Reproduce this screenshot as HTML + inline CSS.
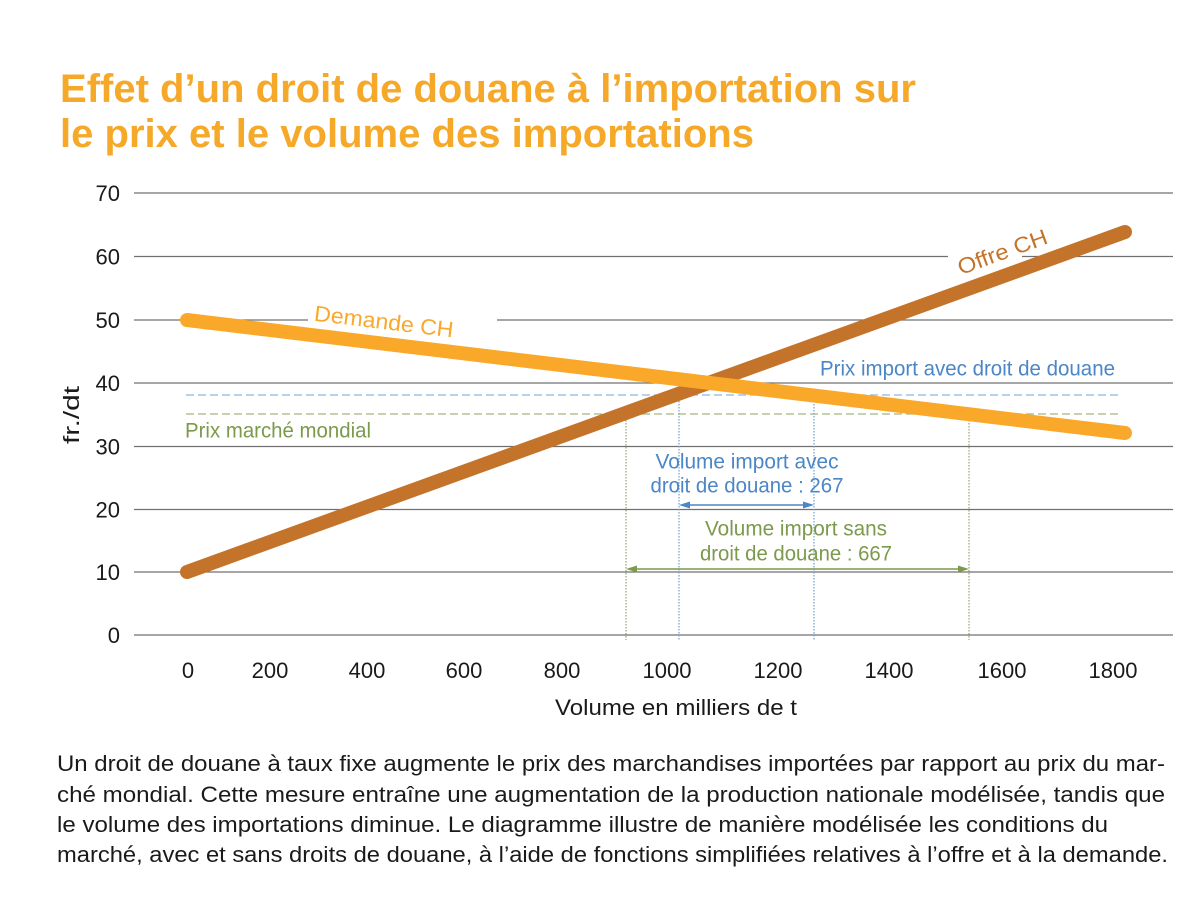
<!DOCTYPE html>
<html>
<head>
<meta charset="utf-8">
<style>
  html,body{margin:0;padding:0;background:#fff;}
  svg{display:block;}
  text{font-family:"Liberation Sans",sans-serif;}
</style>
</head>
<body>
<svg width="1199" height="897" viewBox="0 0 1199 897" xmlns="http://www.w3.org/2000/svg">
  <rect width="1199" height="897" fill="#fff"/>
  <!-- Title -->
  <text x="60" y="102" font-size="40" font-weight="bold" fill="#F6A928" textLength="856" lengthAdjust="spacingAndGlyphs">Effet d’un droit de douane à l’importation sur</text>
  <text x="60" y="147" font-size="40" font-weight="bold" fill="#F6A928" textLength="694" lengthAdjust="spacingAndGlyphs">le prix et le volume des importations</text>

  <!-- Gridlines -->
  <g stroke="#707070" stroke-width="1.3">
    <line x1="134" y1="193" x2="1173" y2="193"/>
    <line x1="134" y1="256.5" x2="948" y2="256.5"/>
    <line x1="1022" y1="256.5" x2="1173" y2="256.5"/>
    <line x1="134" y1="320" x2="308" y2="320"/>
    <line x1="497" y1="320" x2="1173" y2="320"/>
    <line x1="134" y1="383" x2="1173" y2="383"/>
    <line x1="134" y1="446.5" x2="1173" y2="446.5"/>
    <line x1="134" y1="509.5" x2="1173" y2="509.5"/>
    <line x1="134" y1="572" x2="1173" y2="572"/>
    <line x1="134" y1="635" x2="1173" y2="635"/>
  </g>

  <!-- Y labels -->
  <g font-size="22" fill="#1a1a1a" text-anchor="end">
    <text x="120" y="201">70</text>
    <text x="120" y="264.5">60</text>
    <text x="120" y="328">50</text>
    <text x="120" y="391">40</text>
    <text x="120" y="454.5">30</text>
    <text x="120" y="517.5">20</text>
    <text x="120" y="580">10</text>
    <text x="120" y="643">0</text>
  </g>
  <text transform="translate(79,415) rotate(-90)" font-size="22" fill="#1a1a1a" text-anchor="middle" textLength="58" lengthAdjust="spacingAndGlyphs">fr./dt</text>

  <!-- X labels -->
  <g font-size="22" fill="#1a1a1a" text-anchor="middle">
    <text x="188" y="678">0</text>
    <text x="270" y="678">200</text>
    <text x="367" y="678">400</text>
    <text x="464" y="678">600</text>
    <text x="562" y="678">800</text>
    <text x="667" y="678">1000</text>
    <text x="778" y="678">1200</text>
    <text x="889" y="678">1400</text>
    <text x="1002" y="678">1600</text>
    <text x="1113" y="678">1800</text>
  </g>
  <text x="555" y="715" font-size="22" fill="#1a1a1a" textLength="242" lengthAdjust="spacingAndGlyphs">Volume en milliers de t</text>

  <!-- Dashed price lines -->
  <line x1="186" y1="395" x2="1120" y2="395" stroke="#8DB6DD" stroke-width="1.2" stroke-dasharray="8,4"/>
  <line x1="186" y1="414" x2="1120" y2="414" stroke="#A3B67F" stroke-width="1.2" stroke-dasharray="8,4"/>

  <!-- Vertical dotted lines -->
  <g stroke-width="1.2" stroke-dasharray="1.5,1.5">
    <line x1="626" y1="414" x2="626" y2="640" stroke="#8FA66A"/>
    <line x1="969" y1="414" x2="969" y2="640" stroke="#8FA66A"/>
    <line x1="679" y1="395" x2="679" y2="640" stroke="#6E9FD3"/>
    <line x1="814" y1="395" x2="814" y2="640" stroke="#6E9FD3"/>
  </g>

  <!-- Supply & demand -->
  <line x1="187" y1="572" x2="1125" y2="232" stroke="#C4742A" stroke-width="14" stroke-linecap="round"/>
  <line x1="187" y1="320" x2="1125" y2="433" stroke="#F9A82A" stroke-width="14" stroke-linecap="round"/>

  <!-- Arrows -->
  <g stroke="#4B86C6" fill="#4B86C6">
    <line x1="686" y1="505" x2="807" y2="505" stroke-width="1.5"/>
    <polygon points="679,505 690,501.5 690,508.5" stroke="none"/>
    <polygon points="814,505 803,501.5 803,508.5" stroke="none"/>
  </g>
  <g stroke="#7C9A4C" fill="#7C9A4C">
    <line x1="633" y1="569" x2="962" y2="569" stroke-width="1.5"/>
    <polygon points="626,569 637,565.5 637,572.5" stroke="none"/>
    <polygon points="969,569 958,565.5 958,572.5" stroke="none"/>
  </g>

  <!-- Annotations -->
  <text x="820" y="375.5" font-size="21" fill="#4B86C6" textLength="295" lengthAdjust="spacingAndGlyphs">Prix import avec droit de douane</text>
  <text x="185" y="437.5" font-size="21" fill="#7C9A4C" textLength="186" lengthAdjust="spacingAndGlyphs">Prix marché mondial</text>
  <text x="747" y="468.5" font-size="21" fill="#4B86C6" text-anchor="middle" textLength="183" lengthAdjust="spacingAndGlyphs">Volume import avec</text>
  <text x="747" y="492.5" font-size="21" fill="#4B86C6" text-anchor="middle" textLength="193" lengthAdjust="spacingAndGlyphs">droit de douane : 267</text>
  <text x="796" y="535.5" font-size="21" fill="#7C9A4C" text-anchor="middle" textLength="182" lengthAdjust="spacingAndGlyphs">Volume import sans</text>
  <text x="796" y="560.5" font-size="21" fill="#7C9A4C" text-anchor="middle" textLength="192" lengthAdjust="spacingAndGlyphs">droit de douane : 667</text>

  <text transform="translate(383,329) rotate(6.9)" font-size="22" fill="#F9A82A" text-anchor="middle" textLength="140" lengthAdjust="spacingAndGlyphs">Demande CH</text>
  <text transform="translate(1005,259) rotate(-20)" font-size="22" fill="#C4742A" text-anchor="middle" textLength="94" lengthAdjust="spacingAndGlyphs">Offre CH</text>

  <!-- Caption -->
  <g font-size="22.5" fill="#1a1a1a">
    <text x="57" y="771" textLength="1108" lengthAdjust="spacingAndGlyphs">Un droit de douane à taux fixe augmente le prix des marchandises importées par rapport au prix du mar-</text>
    <text x="57" y="802" textLength="1108" lengthAdjust="spacingAndGlyphs">ché mondial. Cette mesure entraîne une augmentation de la production nationale modélisée, tandis que</text>
    <text x="57" y="832" textLength="1051" lengthAdjust="spacingAndGlyphs">le volume des importations diminue. Le diagramme illustre de manière modélisée les conditions du</text>
    <text x="57" y="862" textLength="1111" lengthAdjust="spacingAndGlyphs">marché, avec et sans droits de douane, à l’aide de fonctions simplifiées relatives à l’offre et à la demande.</text>
  </g>
</svg>
</body>
</html>
